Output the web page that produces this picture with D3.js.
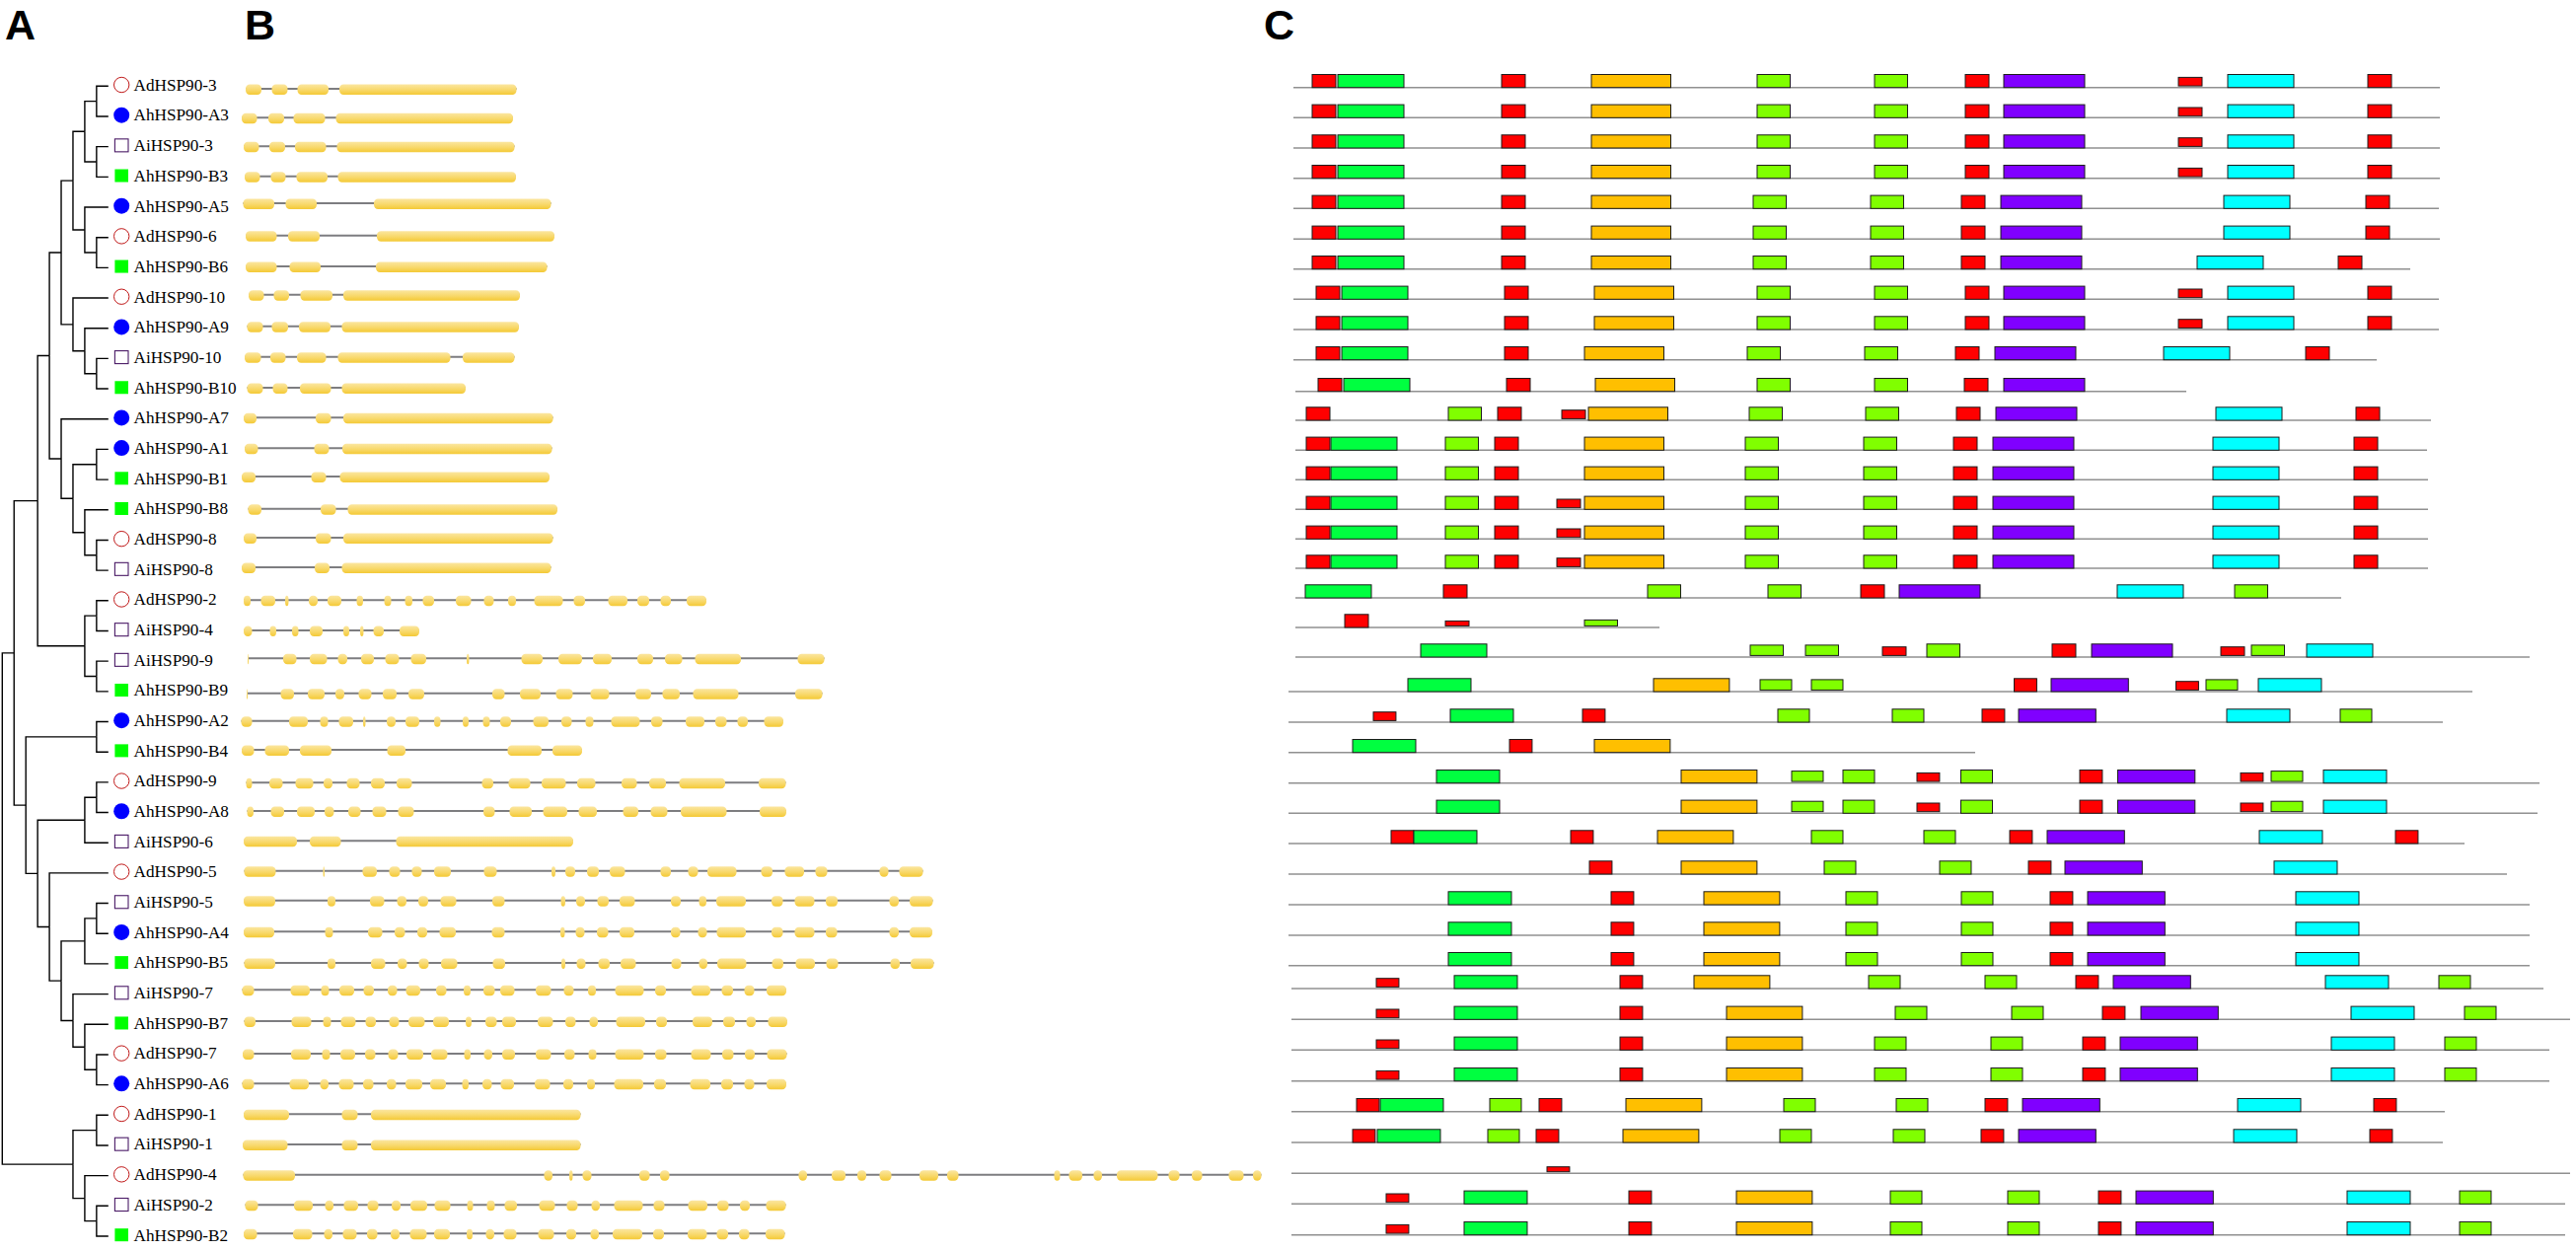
<!DOCTYPE html>
<html>
<head>
<meta charset="utf-8">
<script src="https://cdnjs.cloudflare.com/ajax/libs/d3/7.8.5/d3.min.js"></script>
<style>
  html, body { margin: 0; padding: 0; background: #fff; }
  svg { display: block; }
</style>
</head>
<body>
<svg id="chart"></svg>
<script>
// rows, top to bottom
const genes = [
  "AdHSP90-3", "AhHSP90-A3", "AiHSP90-3", "AhHSP90-B3", "AhHSP90-A5", "AdHSP90-6", "AhHSP90-B6",
  "AdHSP90-10", "AhHSP90-A9", "AiHSP90-10", "AhHSP90-B10", "AhHSP90-A7", "AhHSP90-A1", "AhHSP90-B1",
  "AhHSP90-B8", "AdHSP90-8", "AiHSP90-8", "AdHSP90-2", "AiHSP90-4", "AiHSP90-9", "AhHSP90-B9",
  "AhHSP90-A2", "AhHSP90-B4", "AdHSP90-9", "AhHSP90-A8", "AiHSP90-6", "AdHSP90-5", "AiHSP90-5",
  "AhHSP90-A4", "AhHSP90-B5", "AiHSP90-7", "AhHSP90-B7", "AdHSP90-7", "AhHSP90-A6", "AdHSP90-1",
  "AiHSP90-1", "AdHSP90-4", "AiHSP90-2", "AhHSP90-B2"
];

// panel A: cladogram as nested pairs, leaves are indexes into genes
const treeShape = [
  [
    [
      [
        [[[[0, 1], [2, 3]], [4, [5, 6]]], [7, [8, [9, 10]]]],
        [11, [[12, 13], [14, [15, 16]]]]
      ],
      [[17, 18], [19, 20]]
    ],
    [
      [21, 22],
      [
        [[23, 24], 25],
        [26, [[[27, 28], 29], [30, [31, [32, 33]]]]]
      ]
    ]
  ],
  [[34, 35], [36, [37, 38]]]
];

// panel B: exon start,end pairs along each gene
const exonEdges = [
  [9,25,35.5,51.5,61.5,93,104,283.5],
  [5,20.5,32,48,57.5,89.5,100.5,280],
  [7,22.5,33,49,59,90.5,101.5,281.5],
  [8,23.5,34.5,49.5,60.5,92,102.5,283],
  [6.5,38,49.5,81,139,318.5],
  [9,40.5,52,84,142,322],
  [9,40.5,53.5,85,141,314.5],
  [12,27.5,37.5,53,64.5,97,108,287],
  [10.5,26.5,35.5,52,63,95,106.5,286],
  [8,24.5,34,49.5,61,90.5,102.5,216.5,229,281.5],
  [10.5,26.5,36.5,51.5,64,95.5,106.5,232],
  [7,20,80,95.5,108,320.5],
  [8,21.5,78.5,93.5,107,319.5],
  [5,19,75.5,90.5,104.5,317],
  [11.5,25,85,100.5,112.5,325],
  [7,20,80,95.5,108,320.5],
  [5,19,79,94,106.5,318.5],
  [7,14,24.5,39,49,52.5,73,82,92,106,121.5,128,149.5,156.5,170.5,178,188.5,200,222,237.5,250.5,260.5,275,283,301.5,330.5,341.5,353,376.5,396,406,418,429.5,440,456,476],
  [7,15.5,33.5,40,56,62.5,74,87,108,114,125,128.5,138.5,149,165,185],
  [11,12,47,60.5,74,91.5,102.5,112,126,139,150.5,164.5,176.5,192,233,235.5,288.5,310,326,350,361,380,406,422,434,451.5,464.5,511,568.5,595.5],
  [10,11,44.5,58,72,89,100,109,123.5,136.5,148,162,174,190,259,271.5,287,308,323.5,340.5,358.5,377.5,404,420,431.5,449,462.5,508.5,566,593.5],
  [4.5,15.5,53,72,84.5,92.5,103.5,118,128,130.5,152,161,171,185,200,206.5,229,235,249.5,256.5,267,278,300.5,316,329,339.5,353.5,361.5,379.5,408.5,420,431.5,455,474,485,496.5,507.5,518,534.5,554],
  [5,17.5,28.5,53,64,96,152.5,171,274.5,309,320,350],
  [9.5,15.5,33,46.5,59.5,77.5,88,97,111.5,124.5,136,150,162,177.5,248.5,260,275.5,297.5,309,333.5,345,363.5,390,405.5,418,435,448.5,495,529,556.5],
  [10.5,17,34.5,48,61,79,89,98.5,113,125.5,137.5,151.5,163.5,179.5,250,261.5,276.5,299,310.5,335,346.5,365,391.5,407,419.5,436.5,450,496.5,530,557],
  [7,61,74,105.5,161.5,341],
  [7.5,39.5,87.5,89,127.5,142,154.5,165.5,177.5,187.5,200,217,250.5,263.5,319,323,333,343,355,367,378,393.5,429.5,440,457.5,467.5,477,506.5,531.5,543,555.5,575,586.5,598.5,651.5,660.5,671.5,695.5],
  [7,39,92,100,135,149.5,162.5,172,184,194,206.5,222.5,259,271.5,328.5,333,344,353,365.5,377,388,403.5,440,450,468.5,476,486,516,542,553.5,565.5,585.5,597,609,661.5,671,682,705.5],
  [7,38,89.5,97.5,133,147.5,160,170.5,183,193,205.5,222,258.5,271.5,328,332.5,343.5,352.5,365,376.5,388,403,440,449.5,467.5,476.5,486.5,516,542,553.5,565.5,585.5,597,608.5,661.5,671,682,705],
  [7.5,39,92,100,136,150.5,163,172.5,184.5,194.5,207,223.5,259.5,272,329,333,344.5,353.5,366.5,378,389,404.5,440.5,450.5,468.5,477,487,516.5,542.5,554,566.5,586,597.5,609.5,662.5,672,683,706.5],
  [5.5,17.5,54.5,74,85.5,93.5,104,119,128.5,139,153,162.5,171.5,186,202,212.5,230,237,250,261.5,267,281.5,303,318.5,331.5,341.5,356,364,383.5,412.5,424,435,460.5,480,491.5,503,514.5,524.5,537,557],
  [7.5,19,55.5,75.5,87.5,95.5,105.5,120.5,130.5,141,154.5,164.5,174,190.5,199,215,232,238,252,263.5,269,283,305,320.5,333,343.5,357.5,366,384.5,414,425,436,462,482,493,505,516.5,526,538.5,558],
  [6,17.5,55,75,86.5,94.5,105,120,130,140.5,153.5,163.5,172,189,197,213.5,230.5,237,250.5,259,269,282,303,318.5,332,342.5,356.5,364.5,383.5,412.5,424,435.5,460.5,480.5,492,503.5,515,525,537.5,557.5],
  [5.5,17.5,53.5,73,84.5,93,103.5,118.5,128,138.5,152,161.5,171,188,196,212,228.5,235,249,258.5,267.5,281,302,317.5,331,341,355,363,382.5,412,423,435,459.5,480,491,503,514.5,524.5,537,557],
  [7,53,106.5,122.5,136,348.5],
  [6,51.5,106.5,122.5,136,348.5],
  [6.5,59,311.5,320,337,340.5,350.5,359.5,408,418.5,429,438.5,569.5,578,603,617,629,638,651.5,663.5,692,711,720,731.5,828.5,834.5,843.5,857,868.5,877,892,933.5,944.5,955.5,968,978.5,1005.5,1020.5,1030,1038.5],
  [8.5,21.5,58,77,89.5,98,108.5,123,132.5,143.5,157,166,176,193,200.5,216.5,233.5,239.5,253.5,261.5,271.5,284,306.5,322.5,334.5,345.5,359.5,368,382.5,411.5,422.5,433.5,457.5,477,487,498.5,510,520,536.5,556.5],
  [7,20.5,57,76.5,88.5,97,107.5,121.5,132,142.5,156,165,175.5,192.5,200,216,233,239,252.5,261,270.5,283.5,305.5,321.5,334,344,358.5,367,381,411,422,433,457,476.5,486.5,498,509,519.5,536,555.5]
];

// panel C: one letter per motif hit, and the site where each hit starts
const motifCodes = [
  "rgrollrpscr", "rgrollrpscr", "rgrollrpscr", "rgrollrpscr", "rgrollrpcr", "rgrollrpcr", "rgrollrpcr",
  "rgrollrpscr", "rgrollrpscr", "rgrollrpcr", "rgrollrp", "rlrsollrpcr", "rglrollrpcr", "rglrollrpcr",
  "rglrsollrpcr", "rglrsollrpcr", "rglrsollrpcr", "grllrpcl", "rxu", "gttslrpstc",
  "gottrpstc", "sgrllrpcl", "gro", "gotlslrpstc", "gotlslrpstc", "rgrollrpcr", "rollrpc",
  "grollrpc", "grollrpc", "grollrpc", "sgrollrpcl", "sgrollrpcl", "sgrollrpcl", "sgrollrpcl",
  "rglrollrpcr", "rglrollrpcr", "x", "sgrollrpcl", "sgrollrpcl"
];
const motifSites = [
  [30,56,222,313,481,600,692,731,908,958,1100],
  [30,56,222,313,481,600,692,731,908,958,1100],
  [30,56,222,313,481,600,692,731,908,958,1100],
  [30,56,222,313,481,600,692,731,908,958,1100],
  [30,56,222,313,477,596,688,728,954,1098],
  [30,56,222,313,477,596,688,728,954,1098],
  [30,56,222,313,477,596,688,728,927,1070],
  [34,60,225,316,481,600,692,731,908,958,1100],
  [34,60,225,316,481,600,692,731,908,958,1100],
  [34,60,225,306,471,590,682,722,893,1037],
  [36,62,227,317,481,600,691,731],
  [24,168,218,283,310,473,591,683,723,946,1088],
  [24,49,165,215,306,469,589,680,720,943,1086],
  [24,49,165,215,306,469,589,680,720,943,1086],
  [24,49,165,215,278,306,469,589,680,720,943,1086],
  [24,49,165,215,278,306,469,589,680,720,943,1086],
  [24,49,165,215,278,306,469,589,680,720,943,1086],
  [23,163,370,492,586,625,846,965],
  [63,165,306],
  [140,474,530,608,653,780,820,951,982,1038],
  [127,376,484,536,741.5,779,905.5,936,989],
  [92,170,304,502,618,709,746,957,1072],
  [71,230,316],
  [156,404,516,568,643,687.5,808,846.5,971,1002,1055],
  [156,404,516,568,643,687.5,808,846.5,971,1002,1055],
  [110,133,292,380,536,650,737,775,990,1128],
  [311,404,549,666,756,793,1005],
  [168,333,427,571,688,778,816,1027],
  [168,333,427,571,688,778,816,1027],
  [168,333,427,571,688,778,816,1027],
  [95,174,342,417,594,712,804,842,1057,1172],
  [95,174,342,450,621,739,831,870,1083,1198],
  [95,174,342,450,600,718,811,849,1063,1178],
  [95,174,342,450,600,718,811,849,1063,1178],
  [75,99,210,260,348,508,622,712,750,968,1106],
  [71,96,208,257,345,504,619,708,746,964,1102],
  [268],
  [105,184,351,460,616,735,827,865,1079,1193],
  [105,184,351,460,616,735,827,865,1079,1193]
];
// first and last site of each protein line
const proteinStart = [11,11,11,11,11,11,11,11,11,11,13,13,13,13,13,13,13,13,13,13,6,6,6,6,6,6,6,6,6,6,9,9,9,9,9,9,9,9,9];
const proteinEnd = [1173,1173,1173,1173,1172,1173,1143,1172,1172,1109,916,1164,1160,1161,1161,1161,1161,1073,382,1264,1206,1176,702,1274,1272,1198,1241,1264,1264,1264,1278,1305,1284,1284,1178,1176,1305,1300,1300];

// motif lengths in sites
const motifLength = { r: 24, s: 24, x: 24, g: 67, o: 80.5, l: 33.5, t: 33.5, u: 33.5, p: 82, c: 67 };
const motifColor = {
  r: "#ff0000", s: "#ff0000", x: "#ff0000", g: "#00ff40", o: "#ffbf00",
  l: "#80ff00", t: "#80ff00", u: "#80ff00", p: "#8000ff", c: "#00ffff"
};
// partial hits are drawn shorter and sit just above the line
const motifHeight = { s: 8.7, x: 5, t: 10.5, u: 6 };

// row centres, read per panel because the original panels were pasted by hand
const exonRowY = [90,119.3,148.3,178.7,206,238.7,270,298.7,330.7,361.7,393,423.3,454.3,483,515.7,545,575,608.3,639,667.3,702.7,730.7,760,793.3,822,852.3,882.7,912.7,944.3,976,1003.3,1035,1068,1098.3,1129.3,1160,1190.7,1221.3,1250.3];
const proteinRowY = [88.7,119.3,150,180.7,211.3,242.3,272.7,303.3,334,364.7,396.7,426,456.3,486.3,516.3,546.3,576,606,636,666,701,732,762.7,793.7,824.3,855,886,917,948,978.7,1002,1033.3,1064.3,1095.7,1126.7,1158,1189.3,1220.3,1251.7];

const width = 2611;
const height = 1267;

const svg = d3.select("#chart").attr("width", width).attr("height", height);

// exon gradient
const grad = svg.append("defs").append("linearGradient")
  .attr("id", "exonFill")
  .attr("x1", 0).attr("x2", 0).attr("y1", 0).attr("y2", 1);
grad.append("stop").attr("offset", "0%").attr("stop-color", "#fbe6a0");
grad.append("stop").attr("offset", "55%").attr("stop-color", "#f8d869");
grad.append("stop").attr("offset", "100%").attr("stop-color", "#f4c935");

// panel letters
svg.selectAll(".panel-letter")
  .data([["A", 5], ["B", 248], ["C", 1281]])
  .enter()
  .append("text")
  .attr("class", "panel-letter")
  .attr("x", (d) => d[1])
  .attr("y", 39.5)
  .attr("font-family", "'Liberation Sans', Arial, sans-serif")
  .attr("font-weight", "bold")
  .attr("font-size", 43)
  .attr("fill", "#000")
  .text((d) => d[0]);

// ---- Panel A: tree ----
const yLeaf = d3.scalePoint().domain(genes).range([87.3, 1253]);
const xHeight = d3.scaleLinear().domain([0, 9]).range([109.8, 2.3]);

const root = d3.hierarchy(treeShape, (d) => (Array.isArray(d) ? d : null));
root.eachAfter((n) => {
  n.py = n.children ? d3.mean(n.children, (c) => c.py) : yLeaf(genes[n.data]);
  n.px = xHeight(n.height);
});

const gTree = svg.append("g");
gTree.selectAll("path")
  .data(root.links())
  .enter()
  .append("path")
  .attr("fill", "none")
  .attr("stroke", "#000")
  .attr("stroke-width", 1.4)
  .attr("d", (d) => `M${d.source.px},${d.source.py}V${d.target.py}H${d.target.px}`);

// species markers
const markY = (g) => yLeaf(g) - 1.3;
const speciesOf = (g) => (g.startsWith("Ad") ? "Ad" : g.startsWith("Ai") ? "Ai" : g.includes("-A") ? "AhA" : "AhB");
const markerX = 123.2;

gTree.selectAll("circle")
  .data(genes.filter((g) => ["Ad", "AhA"].includes(speciesOf(g))))
  .enter()
  .append("circle")
  .attr("cx", markerX)
  .attr("cy", markY)
  .attr("r", (g) => (speciesOf(g) === "Ad" ? 7.7 : 8))
  .attr("fill", (g) => (speciesOf(g) === "Ad" ? "#fff" : "#0000ff"))
  .attr("stroke", (g) => (speciesOf(g) === "Ad" ? "#c01818" : "none"))
  .attr("stroke-width", 1);

gTree.selectAll("rect")
  .data(genes.filter((g) => ["Ai", "AhB"].includes(speciesOf(g))))
  .enter()
  .append("rect")
  .attr("x", markerX - 6.8)
  .attr("y", (g) => markY(g) - 6.5)
  .attr("width", 13.6)
  .attr("height", 13)
  .attr("fill", (g) => (speciesOf(g) === "Ai" ? "#fff" : "#00ff00"))
  .attr("stroke", (g) => (speciesOf(g) === "Ai" ? "#4a1a66" : "none"))
  .attr("stroke-width", 1.1);

gTree.selectAll("text")
  .data(genes)
  .enter()
  .append("text")
  .attr("x", 135.5)
  .attr("y", (g) => markY(g) + 5.8)
  .attr("font-family", "'Liberation Serif', 'Times New Roman', serif")
  .attr("font-size", 17.2)
  .attr("fill", "#000")
  .text((g) => g);

// ---- Panel B: gene structure ----
const xExon = d3.scaleLinear().domain([0, 1040]).range([240, 1280]);
const yExon = d3.scaleOrdinal().domain(genes).range(exonRowY);

const gExon = svg.append("g");
genes.forEach((g, i) => {
  const edges = exonEdges[i];
  const exons = d3.range(0, edges.length, 2).map((k) => [edges[k], edges[k + 1]]);
  const row = gExon.append("g");

  // intron backbone
  row.append("line")
    .attr("x1", xExon(edges[0]))
    .attr("x2", xExon(edges[edges.length - 1]))
    .attr("y1", yExon(g))
    .attr("y2", yExon(g))
    .attr("stroke", "#7d7d80")
    .attr("stroke-width", 2);

  row.selectAll("rect")
    .data(exons)
    .enter()
    .append("rect")
    .attr("x", (d) => xExon(d[0]))
    .attr("y", yExon(g) - 4.5)
    .attr("width", (d) => xExon(d[1]) - xExon(d[0]))
    .attr("height", 10.5)
    .attr("rx", (d) => Math.min(4.2, (xExon(d[1]) - xExon(d[0])) / 2))
    .attr("ry", 4.2)
    .attr("fill", "url(#exonFill)");
});

// ---- Panel C: motifs ----
const xSite = d3.scaleLinear().domain([0, 1311]).range([1300, 2611]);
const yProtein = d3.scaleOrdinal().domain(genes).range(proteinRowY);
const fullHeight = 13.2;

const gMotif = svg.append("g");
genes.forEach((g, i) => {
  const base = yProtein(g);
  // the longer proteins from AhHSP90-B9 down are drawn on a tighter scale
  const shrink = i >= 20 ? 0.955 : 1;
  const hits = motifSites[i].map((site, k) => ({ code: motifCodes[i][k], site }));
  const row = gMotif.append("g");

  row.append("line")
    .attr("x1", xSite(proteinStart[i]))
    .attr("x2", xSite(proteinEnd[i]))
    .attr("y1", base)
    .attr("y2", base)
    .attr("stroke", "#909090")
    .attr("stroke-width", 1.5);

  row.selectAll("rect")
    .data(hits)
    .enter()
    .append("rect")
    .attr("x", (d) => xSite(d.site))
    .attr("y", (d) => (motifHeight[d.code] ? base - 1.6 - motifHeight[d.code] : base - fullHeight))
    .attr("width", (d) => xSite(d.site + motifLength[d.code] * shrink) - xSite(d.site))
    .attr("height", (d) => motifHeight[d.code] || fullHeight)
    .attr("fill", (d) => motifColor[d.code])
    .attr("stroke", "#1c1c1c")
    .attr("stroke-width", 1);
});
</script>
</body>
</html>
